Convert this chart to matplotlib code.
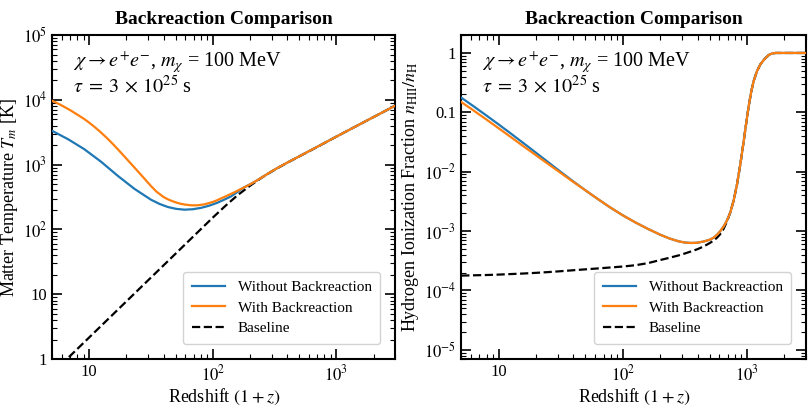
import matplotlib
matplotlib.use("Agg")
import matplotlib.pyplot as plt
import matplotlib.ticker as mticker
import numpy as np

plt.rcParams['font.family'] = ['Liberation Serif', 'DejaVu Serif']
plt.rcParams['mathtext.fontset'] = 'stix'

# ---- left panel: matter temperature T_m [K] vs redshift (1+z) ----
rs_T_without = [5, 6.75, 9.1, 12.45, 17, 23.2, 31.6, 37, 43.3, 50.5, 58.9, 68.5,
                80, 92.9, 108, 123, 140, 160, 175, 204, 230, 260, 300, 355,
                420, 500, 700, 1000, 1500, 2000, 3000]
T_without = [3340, 2470, 1740, 1114, 675, 424, 288, 248, 222, 208, 202, 205,
             215, 232, 257, 287, 323, 385, 436, 506, 578, 668, 793, 950,
             1130, 1345, 1890, 2715, 4080, 5445, 8170]

rs_T_with = [5, 5.5, 6, 7, 8, 9.1, 10, 11, 12, 13.5, 15, 17, 20, 22.5, 25, 28,
             31.6, 35, 40, 43.3, 45, 50, 55, 60, 67, 75, 85, 100, 108, 115,
             130, 150, 175, 204, 230, 260, 300, 355, 420, 500, 700, 1000,
             1500, 2000, 3000]
T_with = [9700, 8920, 8200, 6960, 5940, 5080, 4450, 3850, 3345, 2723, 2235,
          1740, 1238, 966, 773, 607, 468, 384, 316, 292, 283, 262, 249, 241.5,
          236, 236, 243.5, 265.6, 282, 297.6, 331, 376, 436, 506, 578, 668,
          793, 950, 1130, 1345, 1890, 2715, 4080, 5445, 8170]

rs_T_base = [5, 6, 7, 8, 10, 12, 15, 20, 25, 30, 40, 50, 60, 70, 80, 100, 126,
             158, 200, 251, 316, 398, 501, 708, 1000, 1500, 2000, 3000]
T_base = [0.598, 0.837, 1.114, 1.426, 2.155, 3.019, 4.561, 7.767, 11.74, 16.45,
          28.0, 42.3, 59.3, 78.9, 101, 152.5, 230, 336, 473, 638, 834, 1065,
          1345, 1900, 2715, 4080, 5445, 8170]

# ---- right panel: hydrogen ionization fraction n_HII/n_H vs redshift (1+z) ----
rs_x = [5.0, 6.31, 7.94, 10, 12.59, 15.85, 19.95, 25.12, 31.62, 39.81, 50.12,
        63.1, 79.4, 100, 125.9, 158.5, 199.5, 237, 281.8, 316.2, 354.8, 398.1,
        446.7, 501.2, 537, 575.4, 608.1, 645.7, 688.7, 732.8, 779.8, 829.8,
        883.1, 939.7, 984, 1030, 1081, 1132, 1205, 1282, 1380, 1496, 1549,
        1600, 1698, 1995, 3000]
xe_without = [0.1770, 0.1258, 0.0891, 0.0626, 0.0437, 0.0303, 0.02094, 0.01442,
              9.93e-3, 6.89e-3, 4.84e-3, 3.45e-3, 2.49e-3, 1.842e-3, 1.403e-3,
              1.094e-3, 8.71e-4, 7.52e-4, 6.72e-4, 6.41e-4, 6.31e-4, 6.37e-4,
              6.67e-4, 7.16e-4, 7.71e-4, 8.73e-4, 9.95e-4, 1.186e-3, 1.50e-3,
              2.062e-3, 3.26e-3, 6.07e-3, 0.01334, 0.03264, 0.0651, 0.1256,
              0.2243, 0.3395, 0.5006, 0.6459, 0.788, 0.923, 0.959, 0.984,
              1.0, 1.0, 1.0]
xe_with = [0.1493, 0.1068, 0.0762, 0.0540, 0.0381, 0.0268, 0.01901, 0.01345,
           9.53e-3, 6.76e-3, 4.84e-3, 3.45e-3, 2.49e-3, 1.842e-3, 1.403e-3,
           1.094e-3, 8.71e-4, 7.52e-4, 6.72e-4, 6.41e-4, 6.31e-4, 6.37e-4,
           6.67e-4, 7.16e-4, 7.71e-4, 8.73e-4, 9.95e-4, 1.186e-3, 1.50e-3,
           2.062e-3, 3.26e-3, 6.07e-3, 0.01334, 0.03264, 0.0651, 0.1256,
           0.2243, 0.3395, 0.5006, 0.6459, 0.788, 0.923, 0.959, 0.984,
           1.0, 1.0, 1.0]
xe_base = [1.78e-4, 1.80e-4, 1.82e-4, 1.85e-4, 1.89e-4, 1.93e-4, 1.98e-4,
           2.04e-4, 2.11e-4, 2.19e-4, 2.27e-4, 2.35e-4, 2.44e-4, 2.53e-4,
           2.66e-4, 2.88e-4, 3.25e-4, 3.55e-4, 3.9e-4, 4.2e-4, 4.55e-4,
           4.95e-4, 5.5e-4, 6.3e-4, 6.9e-4, 7.8e-4, 8.9e-4, 1.08e-3, 1.45e-3,
           2.06e-3, 3.26e-3, 6.07e-3, 0.01334, 0.03264, 0.0651, 0.1256,
           0.2243, 0.3395, 0.5006, 0.6459, 0.788, 0.923, 0.959, 0.984,
           1.0, 1.0, 1.0]

labels = ['Without Backreaction', 'With Backreaction', 'Baseline']
note = ('$\\chi \\to e^{+}e^{-}$, $m_\\chi$ = 100 MeV\n'
        '$\\tau \\;=\\; 3 \\,\\times\\, 10^{25}$ s')

fig = plt.figure(figsize=(8.12, 4.08), dpi=100)
ax1 = fig.add_axes([0.064, 0.120, 0.423, 0.794])
ax2 = fig.add_axes([0.568, 0.120, 0.425, 0.794])


def style_axis(ax):
    ax.set_xscale('log')
    ax.set_yscale('log')
    ax.set_xlim(5, 3000)
    ax.tick_params(which='both', direction='in', top=True, right=True,
                   labelsize=12)
    ax.tick_params(which='major', length=7, width=1.2)
    ax.tick_params(which='minor', length=3.5, width=0.8)
    for s in ax.spines.values():
        s.set_linewidth(1.5)
    ax.xaxis.set_minor_locator(mticker.LogLocator(base=10, subs=np.arange(2, 10), numticks=100))
    ax.yaxis.set_minor_locator(mticker.LogLocator(base=10, subs=np.arange(2, 10), numticks=100))
    ax.xaxis.set_minor_formatter(mticker.NullFormatter())
    ax.yaxis.set_minor_formatter(mticker.NullFormatter())
    ax.set_xticks([10, 100, 1000])
    ax.set_xticklabels(['10', '$10^2$', '$10^3$'])
    ax.set_xlabel('Redshift $(1+z)$', fontsize=13, labelpad=2)
    ax.set_title('Backreaction Comparison', fontsize=14, fontweight='bold', pad=8)
    ax.text(0.06, 0.955, note, transform=ax.transAxes, va='top', ha='left',
            fontsize=14.5, linespacing=1.05)


def add_legend(ax, handles):
    ax.legend(handles=handles, loc='lower right', fontsize=11, handlelength=2.2,
              edgecolor='lightgray', framealpha=1, borderpad=0.55,
              labelspacing=0.45, borderaxespad=1.0)


# left
h1, = ax1.plot(rs_T_without, T_without, color='C0', lw=1.6, label=labels[0], zorder=3)
h2, = ax1.plot(rs_T_with, T_with, color='C1', lw=1.6, label=labels[1], zorder=4)
h3, = ax1.plot(rs_T_base, T_base, color='k', ls='--', lw=1.6, label=labels[2], zorder=2)
style_axis(ax1)
ax1.set_ylim(1, 1e5)
ax1.set_yticks([1, 10, 100, 1e3, 1e4, 1e5])
ax1.set_yticklabels(['1', '10', '$10^2$', '$10^3$', '$10^4$', '$10^5$'])
ax1.set_ylabel('Matter Temperature $T_m$ [K]', fontsize=13, labelpad=2)
add_legend(ax1, [h1, h2, h3])

# right
g1, = ax2.plot(rs_x, xe_without, color='C0', lw=1.6, label=labels[0], zorder=3)
g2, = ax2.plot(rs_x, xe_with, color='C1', lw=1.6, label=labels[1], zorder=4)
g3, = ax2.plot(rs_x, xe_base, color='k', ls='--', lw=1.6, label=labels[2], zorder=2)
style_axis(ax2)
ax2.set_ylim(7e-6, 2)
ax2.set_yticks([1e-5, 1e-4, 1e-3, 1e-2, 0.1, 1])
ax2.set_yticklabels(['$10^{-5}$', '$10^{-4}$', '$10^{-3}$', '$10^{-2}$', '0.1', '1'])
ax2.set_ylabel('Hydrogen Ionization Fraction $n_\\mathrm{HII}/n_\\mathrm{H}$',
               fontsize=13, labelpad=2)
add_legend(ax2, [g1, g2, g3])

fig.savefig('out.png', dpi=100)
